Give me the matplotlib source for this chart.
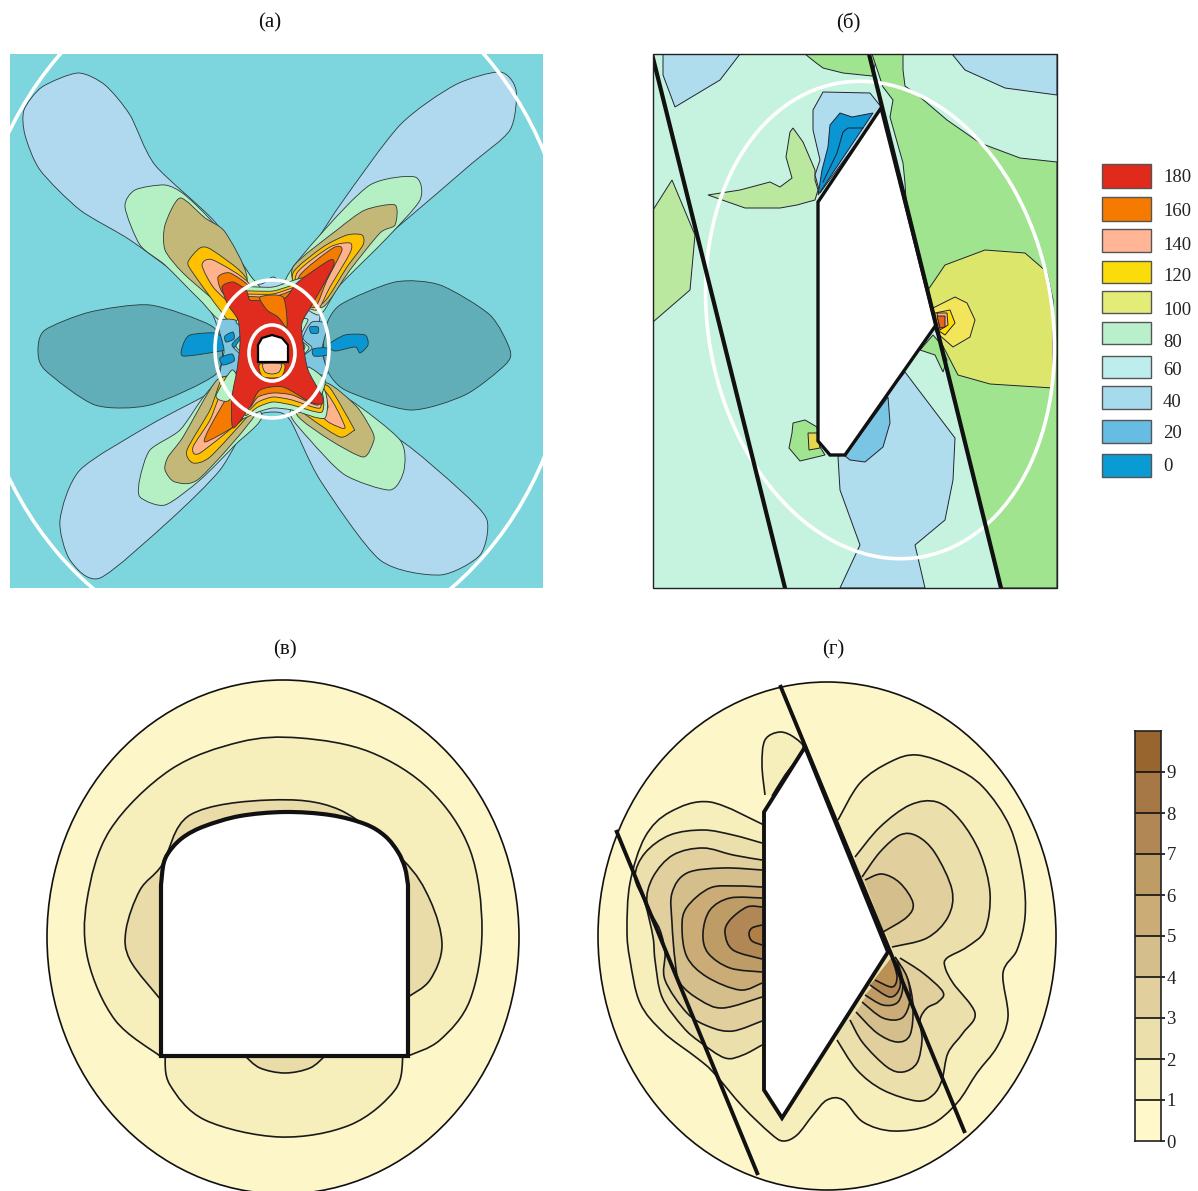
import numpy as np
import matplotlib
matplotlib.use('Agg')
import matplotlib.pyplot as plt
from matplotlib.patches import Polygon, Ellipse, PathPatch, Rectangle
from matplotlib.path import Path

plt.rcParams['font.family'] = ['Liberation Serif', 'DejaVu Serif']

W, H = 1198, 1191

# ---- panel a, contour outlines in image pixels
a_bg = '#7DD5DE'
a_polys = [
    ('#B0D8EE', [(24,110),(42,87),(78,73),(105,85),(130,115),(155,165),(215,222),(255,282),(273,277),(290,280),(340,205),(400,125),(455,85),(500,72),(516,90),(510,130),(470,165),(400,225),(345,270),(322,300),(318,395),(340,415),(400,440),(460,490),(487,520),(480,555),(440,575),(380,560),(320,480),(290,420),(273,412),(250,420),(220,470),(170,520),(100,578),(70,560),(60,520),(80,470),(150,425),(215,390),(225,375),(215,320),(190,285),(130,240),(80,210),(40,170),(25,135)]),
    ('#62AEB8', [(38,350),(45,330),(90,312),(150,305),(210,325),(222,345),(215,375),(150,405),(95,405),(45,370)]),
    ('#62AEB8', [(510,350),(490,315),(440,285),(395,282),(340,305),(325,330),(325,365),(345,390),(410,410),(465,395),(505,365)]),
    ('#0A96D2', [(183,345),(190,335),(215,333),(228,340),(245,332),(235,347),(215,352),(183,356)]),
    ('#0A96D2', [(328,345),(345,335),(365,335),(368,345),(360,353),(355,347),(335,351)]),
    # green petals
    ('#B5F0C5', [(125,207),(135,190),(165,185),(185,195),(215,225),(250,275),(262,295),(225,322),(200,300),(165,265),(140,245)]),
    ('#B5F0C5', [(285,283),(320,235),(370,185),(415,177),(420,200),(385,240),(340,285),(318,315)]),
    ('#B5F0C5', [(318,390),(350,400),(400,440),(404,470),(390,490),(345,475),(310,440),(290,412)]),
    ('#B5F0C5', [(140,497),(140,478),(150,450),(180,430),(205,395),(225,380),(262,415),(235,445),(200,480),(165,505)]),
    # olive petals
    ('#C4B878', [(165,250),(165,225),(180,198),(205,218),(225,232),(247,277),(235,322),(217,303),(183,273)]),
    ('#C4B878', [(293,267),(337,230),(365,210),(395,205),(395,225),(380,233),(350,270),(323,307),(300,295)]),
    ('#C4B878', [(300,390),(327,383),(357,407),(373,433),(373,443),(363,457),(330,440),(297,415)]),
    ('#C4B878', [(168,457),(183,437),(217,380),(240,385),(258,410),(200,478),(175,482),(165,470)]),
    # gold petals
    ('#FFC000', [(188,262),(200,248),(212,250),(247,280),(235,325),(220,310),(193,273)]),
    ('#FFC000', [(293,273),(323,247),(347,235),(362,235),(363,245),(347,267),(323,303),(300,300)]),
    ('#FFC000', [(288,388),(317,385),(330,388),(353,427),(353,431),(340,437),(313,420),(288,400)]),
    ('#FFC000', [(187,450),(193,463),(210,457),(247,417),(258,400),(240,385),(223,377),(210,410)]),
    # peach petals
    ('#FFB38C', [(202,265),(213,260),(250,285),(240,320),(233,307),(213,287)]),
    ('#FFB38C', [(297,273),(330,247),(350,243),(350,253),(330,287),(317,310),(298,300)]),
    ('#FFB38C', [(263,387),(320,387),(345,427),(330,423),(317,413),(290,397)]),
    ('#FFB38C', [(193,447),(200,453),(247,415),(255,400),(227,383),(210,420)]),
    # orange petals
    ('#F47B00', [(218,277),(230,273),(250,288),(245,310),(237,305),(222,292)]),
    ('#F47B00', [(300,275),(333,248),(342,250),(327,280),(315,307),(298,298)]),
    ('#F47B00', [(267,387),(317,385),(328,407),(317,413),(290,393)]),
    ('#F47B00', [(205,442),(233,427),(250,410),(240,390),(230,393),(210,427)]),
    # bands at top and bottom of the ring
    ('#B5F0C5', [(240,288),(273,287),(306,278),(304,305),(245,310)]),
    ('#FFC000', [(240,292),(273,291),(304,283),(302,305),(245,310)]),
    ('#FFB38C', [(241,295),(273,294),(302,286),(300,306),(245,310)]),
    ('#F47B00', [(241,297),(273,297),(302,288),(300,307),(245,311)]),
    ('#B5F0C5', [(240,418),(258,412),(273,408),(292,410),(325,418),(320,385),(250,385)]),
    ('#FFC000', [(245,415),(258,407),(273,402),(292,405),(322,412),(316,385),(250,385)]),
    ('#FFB38C', [(248,410),(258,402),(273,397),(292,400),(320,408),(314,385),(250,385)]),
    ('#F47B00', [(250,407),(258,397),(273,393),(292,395),(318,405),(312,383),(252,385)]),
    # banded sides of the ring
    ('#7FC6E0', [(218,322),(235,320),(243,332),(232,345),(243,358),(236,372),(220,376),(224,350)]),
    ('#0A96D2', [(225,336),(233,332),(234,339),(226,342)]),
    ('#0A96D2', [(220,358),(232,354),(234,361),(223,365)]),
    ('#B5F0C5', [(236,322),(245,316),(250,332),(240,346),(250,360),(245,376),(238,372),(246,358),(236,346),(246,332)]),
    ('#FFC000', [(243,315),(252,318),(256,332),(247,346),(256,360),(250,378),(246,374),(250,360),(241,346),(250,332)]),
    ('#F47B00', [(247,318),(255,318),(259,332),(252,346),(259,360),(254,378),(249,374),(254,360),(245,346),(254,332)]),
    ('#7FC6E0', [(327,325),(312,322),(303,338),(312,348),(302,358),(310,372),(327,374),(322,350)]),
    ('#0A96D2', [(310,327),(318,327),(318,333),(311,333)]),
    ('#0A96D2', [(313,349),(327,348),(327,355),(314,356)]),
    ('#B5F0C5', [(308,320),(300,320),(296,334),(305,347),(296,360),(302,375),(308,372),(300,360),(309,348),(300,338)]),
    ('#FFC000', [(302,318),(296,322),(292,335),(300,347),(292,360),(298,378),(302,374),(296,360),(304,347),(296,335)]),
    ('#B5F0C5', [(216,396),(232,370),(239,385),(228,401)]),
    ('#B5F0C5', [(308,367),(325,380),(320,396),(311,385)]),
    # red core
    ('#E02C1E', [(222,287),(233,282),(246,290),(250,300),(262,300),(285,298),(298,282),(330,260),(333,267),(313,303),(302,323),(303,343),(308,370),(322,396),(322,404),(310,402),(283,387),(260,390),(250,407),(233,428),(232,397),(237,370),(240,343),(238,320),(228,305)]),
    ('#F47B00', [(260,297),(283,297),(287,327),(278,317),(267,310)]),
    ('#FFC000', [(260,364),(284,364),(282,376),(272,378),(262,376)]),
    ('#FFB38C', [(263,364),(281,364),(279,372),(272,374),(265,372)]),
]
a_tunnel = [(258,362),(258,345),(262,338),(272,335),(282,338),(288,345),(288,362)]
a_rings = [(272,305,302,352), (272,349,57,69), (272,353,23,28)]

# ---- panel b
b_bg = '#C6F3E0'
b_polys = [
    ('#B0DDEE', [(663,54),(740,54),(720,80),(675,107),(663,75)]),
    ('#B0DDEE', [(952,54),(1057,54),(1057,95),(1005,88),(965,70)]),
    ('#A0E48F', [(805,54),(815,62),(823,68),(843,73),(872,76),(878,54)]),
    ('#A0E48F', [(872,54),(903,54),(903,70),(905,86),(920,97),(947,120),(980,143),(1020,158),(1057,162),(1057,588),(1000,588),(906,200),(905,183),(903,163),(890,117),(893,100),(883,87)]),
    ('#DCE66A', [(928,290),(945,265),(985,250),(1025,253),(1047,272),(1053,300),(1053,388),(990,384),(958,375),(945,350),(935,330)]),
    ('#F3E55A', [(933,308),(955,297),(967,303),(975,320),(970,337),(953,347),(937,333)]),
    ('#FFDD00', [(935,313),(950,310),(955,323),(945,335),(933,327)]),
    ('#FFB38C', [(937,313),(947,313),(948,325),(940,330)]),
    ('#E8641A', [(937,316),(945,316),(945,327),(940,328)]),
    ('#A0E48F', [(933,335),(920,350),(935,355),(943,372),(947,360),(940,343)]),
    ('#B9E89E', [(653,210),(672,180),(695,235),(690,290),(653,322)]),
    ('#B9E89E', [(708,195),(740,190),(770,182),(780,187),(792,178),(786,157),(790,132),(793,128),(803,142),(815,170),(815,180),(818,190),(815,200),(797,205),(780,208),(745,208)]),
    ('#B0DDEE', [(823,92),(870,93),(882,108),(820,193),(815,175),(820,160),(813,130),(813,110)]),
    ('#0A96D2', [(840,113),(852,117),(873,113),(818,195),(822,170),(828,147),(830,125)]),
    ('#B0DDEE', [(905,372),(955,438),(953,480),(945,520),(915,545),(925,588),(840,588),(860,545),(840,490),(838,457)]),
    ('#7AC4E4', [(888,397),(890,423),(883,447),(865,462),(850,460),(845,456)]),
    ('#A0E48F', [(793,423),(805,420),(817,427),(820,447),(825,455),(800,461),(789,448),(792,433)]),
    ('#E6D84A', [(808,433),(817,433),(820,448),(809,450)]),
]
b_inner_line = [(823,182),(837,153),(843,132),(848,128),(863,128)]
b_tunnel = [(818,202),(881,108),(936,325),(845,455),(830,455),(818,441)]
b_faults = [[(652,54),(785,588)], [(869,54),(1001,588)]]

# ---- panel v
v_oval = (283,937,236,257)
v_fills = [
    ('#F7EFBB', [(160,1056),(115,1020),(88,960),(87,900),(110,830),(170,770),(240,742),(300,738),(370,752),(430,790),(470,850),(482,930),(470,1000),(440,1040),(408,1056)]),
    ('#F7EFBB', [(165,1056),(170,1085),(205,1120),(280,1137),(350,1125),(395,1090),(403,1056)]),
    ('#E9DCA8', [(161,1000),(130,960),(126,930),(140,890),(162,865),(190,815),(270,800),(340,810),(403,860),(430,900),(442,945),(430,980),(408,997)]),
    ('#E9DCA8', [(245,1056),(260,1068),(285,1073),(310,1068),(325,1056)]),
]
v_arch = [(161,885),(164,862),(172,848),(185,836),(205,826),(240,816),(285,812),(330,815),(365,824),(385,836),(398,852),(405,868),(408,885)]
v_base = [(408,1056),(161,1056)]

# ---- panel g
g_oval = (827,936,229,254)
g_blob = [(765,795),(762,765),(765,740),(780,732),(795,738),(803,750),(785,775),(772,796)]
g_lvl1 = [(764,825),(710,802),(670,812),(645,837),(630,883),(627,930),(630,960),(640,1003),(663,1032),(697,1058),(713,1072),(743,1107),(770,1133),(783,1141),(797,1135),(813,1115),(827,1100),(843,1100),(863,1122),(893,1131),(930,1125),(957,1103),(977,1073),(997,1047),(1008,1017),(1003,973),(1017,950),(1025,917),(1023,877),(1010,827),(983,787),(953,767),(917,755),(890,762),(860,783),(838,820)]
g_right2 = [(855,857),(880,827),(910,805),(937,802),(960,820),(980,853),(990,893),(985,930),(967,947),(947,958),(945,967),(953,983),(975,1013),(963,1033),(948,1053),(942,1080),(933,1095),(917,1101),(883,1090),(857,1070),(837,1040)]
g_right3 = [(862,877),(880,852),(900,835),(917,836),(935,853),(952,890),(948,917),(927,938),(892,947)]
g_right4 = [(865,880),(882,874),(900,883),(913,903),(907,917),(883,932)]
g_fan = [
    ('#E1D09D', [(850,1020),(863,1043),(887,1067),(903,1072),(917,1063),(922,1040),(920,1020),(927,1008),(938,1002),(943,992),(923,973),(900,958)]),
    ('#D4BE8B', [(856,1012),(877,1033),(897,1042),(910,1035),(913,1007),(908,980),(895,957)]),
    ('#CBAC77', [(862,1002),(883,1018),(902,1018),(910,1000),(907,977),(895,957)]),
    ('#BE9C66', [(865,995),(883,1005),(898,1002),(903,983),(897,960)]),
    ('#B18855', [(870,985),(890,997),(900,987),(898,967),(892,957)]),
    ('#BA9055', [(875,980),(892,987),(897,977),(892,958)]),
]
g_left = [
    ('#EBDFAB', [(762,843),(733,835),(703,830),(670,835),(645,853),(635,877),(645,903),(653,937),(655,960),(662,997),(683,1027),(700,1042),(725,1058),(743,1055),(762,1045)]),
    ('#E1D09D', [(762,860),(733,855),(703,848),(673,855),(653,877),(647,903),(660,930),(665,953),(665,980),(687,1013),(710,1027),(733,1031),(762,1021)]),
    ('#D4BE8B', [(762,870),(723,868),(687,873),(672,893),(672,923),(675,960),(680,983),(700,1000),(723,1008),(762,997)]),
    ('#CBAC77', [(762,887),(737,886),(710,888),(687,907),(682,927),(687,957),(707,977),(740,990),(762,983)]),
    ('#BE9C66', [(762,898),(730,898),(710,910),(703,933),(708,953),(730,968),(762,972)]),
    ('#B18855', [(762,907),(747,907),(730,920),(725,933),(733,950),(762,959)]),
    ('#B07F45', [(762,925),(752,928),(749,934),(752,941),(762,945)]),
]
g_tunnel = [(805,747),(764,812),(764,1090),(782,1118),(888,952)]
g_faults = [[(780,685),(965,1133)], [(616,830),(758,1175)]]

# ---- legends
leg_labels = ['180','160','140','120','100','80','60','40','20','0']
leg_colors = ['#E02A1C','#F47B00','#FFB596','#FADC0A','#E4EC78','#B9EFCB','#BDEDEC','#A6DBEE','#66BCE2','#0A9AD4']
leg_top = [164,197,229,261,291,322,356,386,420,454]
leg_bot = [188,221,252,283,313,344,378,409,443,477]
leg_text_y = [178,211,246,277,311,343,371,403,434,467]

cbar_levels = [0,1,2,3,4,5,6,7,8,9]
cbar_colors = ['#FFF8CB','#F8F0BE','#EBDFAB','#E1D09D','#D4BE8B','#CBAC77','#BE9C66','#B18855','#A67845','#99652F']

titles = [('(а)',270,23),('(б)',848,23),('(в)',285,650),('(г)',833,650)]


def px_axes(x0, y0, x1, y1):
    ax = fig.add_axes([x0/W, 1-y1/H, (x1-x0)/W, (y1-y0)/H])
    ax.set_xlim(x0, x1)
    ax.set_ylim(y1, y0)
    ax.axis('off')
    return ax


def smooth(pts):
    # catmull-rom through the read points, as bezier segments
    p = [pts[0]] + list(pts) + [pts[-1]]
    verts = [pts[0]]
    codes = [Path.MOVETO]
    for i in range(1, len(p)-2):
        p0, p1, p2, p3 = map(np.array, p[i-1:i+3])
        verts += [tuple(p1+(p2-p0)/6), tuple(p2-(p3-p1)/6), tuple(p2)]
        codes += [Path.CURVE4]*3
    return verts, codes


def round_poly(pts):
    # same curve but wrapped round, for the closed outlines of panel a
    n = len(pts)
    verts = [pts[0]]
    codes = [Path.MOVETO]
    for i in range(n):
        p0, p1, p2, p3 = [np.array(pts[(i+k) % n]) for k in (-1, 0, 1, 2)]
        verts += [tuple(p1+(p2-p0)/8), tuple(p2-(p3-p1)/8), tuple(p2)]
        codes += [Path.CURVE4]*3
    return Path(verts, codes)


def contour(ax, pts, color, lw=1.2, z=2):
    verts, codes = smooth(pts)
    ax.add_patch(PathPatch(Path(verts+[verts[0]], codes+[Path.CLOSEPOLY]), fc=color, ec='none', zorder=z))
    ax.add_patch(PathPatch(Path(verts, codes), fc='none', ec='#1a1a1a', lw=lw, zorder=z))


fig = plt.figure(figsize=(W/100, H/100), dpi=100)

# (a)
ax = px_axes(10, 54, 543, 588)
ax.add_patch(Rectangle((10,54), 533, 534, fc=a_bg, ec='none'))
for col, pts in a_polys:
    ax.add_patch(PathPatch(round_poly(pts), fc=col, ec='#2a3a3a', lw=0.6))
for cx, cy, rx, ry in a_rings:
    ax.add_patch(Ellipse((cx,cy), 2*rx, 2*ry, fc='none', ec='white', lw=2.6, zorder=5))
ax.add_patch(Polygon(a_tunnel, fc='white', ec='black', lw=1.6, zorder=6))

# (b)
ax = px_axes(653, 54, 1057, 588)
ax.add_patch(Rectangle((653,54), 404, 534, fc=b_bg, ec='none'))
for col, pts in b_polys:
    ax.add_patch(Polygon(pts, fc=col, ec='#223', lw=0.7))
xs, ys = zip(*b_inner_line)
ax.plot(xs, ys, color='#123', lw=0.7)
ax.add_patch(Ellipse((880,320), 344, 481, angle=-10, fc='none', ec='white', lw=2.6, zorder=5))
ax.add_patch(Polygon(b_tunnel, fc='white', ec='#111', lw=2.4, zorder=6))
for fault in b_faults:
    xs, ys = zip(*fault)
    ax.plot(xs, ys, color='#111', lw=3.0, zorder=7)
ax.add_patch(Rectangle((653,54), 404, 534, fc='none', ec='#222', lw=1.0, zorder=8, clip_on=False))

# legend of a, b
ax = px_axes(1090, 150, 1198, 490)
for col, t, b, lab, ty in zip(leg_colors, leg_top, leg_bot, leg_labels, leg_text_y):
    ax.add_patch(Rectangle((1102,t), 49, b-t, fc=col, ec='#555555', lw=1.0))
    ax.text(1163, ty, lab, fontsize=13.5, va='center', ha='left', color='#222222')

# (v)
ax = px_axes(0, 670, 560, 1191)
cx, cy, rx, ry = v_oval
ax.add_patch(Ellipse((cx,cy), 2*rx, 2*ry, fc='#FDF6C9', ec='#111', lw=1.2))
for col, pts in v_fills:
    contour(ax, pts, col)
verts, codes = smooth(v_arch)
verts = verts + v_base + [verts[0]]
codes = codes + [Path.LINETO, Path.LINETO, Path.CLOSEPOLY]
ax.add_patch(PathPatch(Path(verts, codes), fc='white', ec='#111', lw=3.0, zorder=6))

# (g)
ax = px_axes(590, 670, 1070, 1191)
cx, cy, rx, ry = g_oval
ax.add_patch(Ellipse((cx,cy), 2*rx, 2*ry, fc='#FDF6C9', ec='#111', lw=1.2))
contour(ax, g_blob, '#F7EFBB')
contour(ax, g_lvl1, '#F7EFBB')
contour(ax, g_right2, '#EBDFAB', z=3)
contour(ax, g_right3, '#E1D09D', z=3)
contour(ax, g_right4, '#D4BE8B', z=3)
for col, pts in g_fan + g_left:
    contour(ax, pts, col, z=3)
ax.add_patch(Polygon(g_tunnel, fc='white', ec='#111', lw=2.8, zorder=6))
for fault in g_faults:
    xs, ys = zip(*fault)
    ax.plot(xs, ys, color='#111', lw=2.8, zorder=7, solid_capstyle='butt')

# colour bar of v, g
ax = fig.add_axes([1135/W, 1-1141/H, 26/W, 410/H])
ax.bar([0]*10, [1]*10, bottom=cbar_levels, width=1, color=cbar_colors, align='edge')
ax.set_xlim(0, 1)
ax.set_ylim(0, 10)
ax.set_xticks([])
ax.set_yticks(cbar_levels)
ax.yaxis.tick_right()
ax.tick_params(axis='y', length=3, width=1.2, labelsize=13.5, pad=1, labelcolor='#222222', color='#111')
ax.hlines(cbar_levels[1:], 0, 1, color='#111', lw=1.2)
for s in ax.spines.values():
    s.set_linewidth(1.2)
    s.set_color('#222')

for txt, x, y in titles:
    fig.text(x/W, 1-y/H, txt, fontsize=15, ha='center', va='center', color='#111')

fig.savefig('out.png', dpi=100)
